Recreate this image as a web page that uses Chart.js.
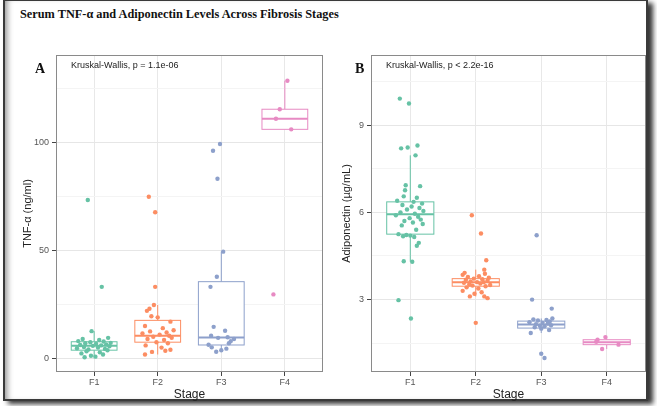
<!DOCTYPE html>
<html>
<head>
<meta charset="utf-8">
<script src="https://cdn.jsdelivr.net/npm/chart.js@4.4.1/dist/chart.umd.min.js"></script>
<style>
  html, body { margin: 0; padding: 0; background: #fff; }
  body { width: 657px; height: 406px; position: relative; overflow: hidden; }
  #frame {
    position: absolute; left: 3px; top: 0px; width: 645px; height: 401px;
    box-sizing: border-box; border: 2px solid #3a3a3a; border-top-width: 1px;
    box-shadow: inset 6px 0 6px -4px rgba(0,0,0,0.45), 5px 3px 5px rgba(0,0,0,0.8);
  }
  #title {
    position: absolute; left: 20px; top: 7px;
    font: bold 12.3px "Liberation Serif", "Times New Roman", serif; color: #111;
  }
  .wrap { position: absolute; top: 0; height: 406px; }
  #wa { left: 0; width: 330px; }
  #wb { left: 330px; width: 327px; }
</style>
</head>
<body>
<div id="frame"></div>
<div id="title">Serum TNF-α and Adiponectin Levels Across Fibrosis Stages</div>
<div class="wrap" id="wa"><canvas id="chartA"></canvas></div>
<div class="wrap" id="wb"><canvas id="chartB"></canvas></div>
<script>
const stages = ["F1", "F2", "F3", "F4"];
const stageColors = ["#66c2a5", "#fc8d62", "#8da0cb", "#e78ac3"];

// Panel A: TNF-alpha (ng/ml)
const tnfF1 = [73.3, 33.1, 12.6, 9.5, 9.0, 8.5, 8.0, 7.8, 7.5, 7.2, 7.0, 6.8, 6.5, 6.2, 6.0, 5.8, 5.6, 5.3, 5.0, 4.7, 4.4, 4.1, 3.8, 3.3, 2.8, 2.3, 1.8, 1.2, 0.8, 0.5];
const tnfF2 = [74.8, 67.6, 33.1, 24.7, 23.0, 22.0, 19.5, 19.0, 17.0, 15.0, 14.0, 13.0, 12.5, 12.0, 11.5, 11.0, 10.5, 10.0, 9.5, 9.0, 8.5, 7.5, 7.0, 6.0, 5.0, 4.0, 3.5, 3.0, 1.8];
const tnfF3 = [99.2, 96.1, 83.1, 49.4, 37.8, 33.1, 14.6, 12.8, 10.5, 9.8, 9.5, 9.0, 8.0, 7.0, 6.3, 5.1, 4.5, 3.8, 3.1];
const tnfF4 = [128.5, 115.3, 110.9, 106.0, 29.6];

const tnfJitF1 = [-0.10, 0.12, -0.04, 0.22, -0.18, 0.08, -0.25, 0.15, -0.06, 0.26, -0.14, 0.03, 0.19, -0.22, 0.11, -0.02, 0.24, -0.16, 0.06, -0.27, 0.17, -0.09, 0.21, -0.12, 0.09, -0.2, 0.14, -0.05, 0.02, -0.15];
const tnfJitF2 = [-0.14, -0.04, -0.04, -0.06, -0.13, -0.17, -0.1, 0.0, 0.2, -0.2, 0.08, 0.25, -0.12, 0.14, -0.24, 0.03, 0.18, -0.07, 0.22, -0.16, 0.1, -0.02, 0.16, -0.19, 0.06, 0.2, 0.12, -0.09, -0.2];
const tnfJitF3 = [-0.02, -0.13, -0.06, 0.03, -0.07, -0.17, -0.12, 0.06, -0.16, 0.1, -0.05, 0.2, 0.15, 0.12, -0.2, -0.15, 0.08, 0.0, -0.08];
const tnfJitF4 = [0.04, -0.08, -0.14, 0.1, -0.18];

const tnfQ1 = [3.8, 7.5, 6.2, 106.0];
const tnfMed = [5.8, 10.5, 9.7, 110.9];
const tnfQ3 = [7.7, 17.6, 35.5, 115.3];
const tnfLo = [0.5, 1.8, 3.1, 106.0];
const tnfHi = [12.6, 24.7, 49.4, 128.5];

const tnfMajor = [0, 50, 100];
const tnfMinor = [25, 75, 125];

// Panel B: Adiponectin (ug/mL)
const adpF1 = [9.91, 9.74, 8.3, 8.23, 8.2, 7.96, 6.93, 6.9, 6.76, 6.55, 6.5, 6.4, 6.36, 6.3, 6.25, 6.2, 6.15, 6.1, 6.05, 6.0, 5.95, 5.9, 5.85, 5.8, 5.75, 5.7, 5.65, 5.6, 5.55, 5.4, 5.25, 5.22, 5.2, 5.18, 5.15, 4.95, 4.85, 4.32, 4.3, 2.98, 2.35];
const adpF2 = [5.9, 5.27, 4.35, 4.03, 3.92, 3.89, 3.85, 3.8, 3.78, 3.75, 3.72, 3.7, 3.68, 3.65, 3.62, 3.6, 3.6, 3.58, 3.55, 3.52, 3.5, 3.48, 3.46, 3.42, 3.38, 3.3, 3.25, 3.2, 3.11, 3.11, 3.05, 2.2];
const adpF3 = [5.21, 3.0, 2.69, 2.35, 2.32, 2.3, 2.28, 2.25, 2.22, 2.2, 2.18, 2.15, 2.12, 2.1, 2.08, 2.05, 2.0, 1.95, 1.85, 1.14, 0.99];
const adpF4 = [1.71, 1.62, 1.55, 1.45, 1.3];

const adpJitF1 = [-0.16, -0.02, 0.11, -0.04, -0.14, 0.08, -0.07, 0.15, -0.08, -0.1, 0.1, -0.2, 0.05, 0.18, -0.12, 0.02, 0.14, -0.05, 0.2, -0.15, 0.07, -0.22, 0.12, -0.01, 0.16, -0.09, 0.04, 0.19, -0.13, 0.09, -0.18, -0.06, 0.0, -0.11, 0.06, 0.13, 0.1, -0.1, 0.03, -0.18, 0.01];
const adpJitF2 = [-0.06, 0.08, 0.16, 0.13, -0.17, 0.14, -0.2, 0.05, -0.12, 0.2, -0.03, 0.1, -0.15, 0.18, -0.08, 0.02, 0.12, -0.18, 0.07, -0.1, 0.22, -0.05, 0.15, -0.14, 0.04, -0.2, 0.09, -0.02, -0.09, 0.13, 0.18, 0.0];
const adpJitF3 = [-0.07, -0.14, 0.16, 0.17, -0.12, 0.08, -0.05, 0.13, -0.18, 0.02, 0.1, -0.08, 0.15, -0.02, 0.05, -0.1, 0.0, 0.12, -0.16, 0.0, 0.05];
const adpJitF4 = [-0.02, -0.14, -0.16, 0.18, -0.07];

const adpQ1 = [5.25, 3.46, 2.02, 1.45];
const adpMed = [5.93, 3.6, 2.14, 1.53];
const adpQ3 = [6.36, 3.72, 2.26, 1.62];
const adpLo = [4.3, 3.11, 1.85, 1.3];
const adpHi = [7.96, 4.03, 2.35, 1.71];

const adpMajor = [3, 6, 9];
const adpMinor = [1.5, 4.5, 7.5, 10.5];

const sansFont = '"Liberation Sans", Arial, sans-serif';

function pointsFor(values, jit, idx) {
  return values.map((v, k) => ({ x: idx + 1 + (jit[k] || 0), y: v }));
}

// boxes (drawn under points), panel border and in-panel texts
const panelPlugin = {
  id: "panel",
  beforeDatasetsDraw(chart, args, o) {
    const ctx = chart.ctx;
    const x = chart.scales.x, y = chart.scales.y;
    ctx.save();
    stages.forEach((s, i) => {
      const c = i + 1;
      const xl = x.getPixelForValue(c - 0.36), xr = x.getPixelForValue(c + 0.36);
      const xc = x.getPixelForValue(c);
      const y1 = y.getPixelForValue(o.q1[i]), y3 = y.getPixelForValue(o.q3[i]);
      ctx.strokeStyle = stageColors[i];
      ctx.lineWidth = 1;
      ctx.beginPath();
      ctx.moveTo(xc, y3); ctx.lineTo(xc, y.getPixelForValue(o.hi[i]));
      ctx.moveTo(xc, y1); ctx.lineTo(xc, y.getPixelForValue(o.lo[i]));
      ctx.stroke();
      ctx.fillStyle = "#fff";
      ctx.fillRect(xl, y3, xr - xl, y1 - y3);
      ctx.strokeRect(xl, y3, xr - xl, y1 - y3);
      ctx.lineWidth = 2;
      const ym = y.getPixelForValue(o.med[i]);
      ctx.beginPath();
      ctx.moveTo(xl, ym); ctx.lineTo(xr, ym);
      ctx.stroke();
    });
    ctx.restore();
  },
  afterDraw(chart, args, o) {
    const ctx = chart.ctx, a = chart.chartArea;
    ctx.save();
    ctx.strokeStyle = "#8a8a8a";
    ctx.lineWidth = 1;
    ctx.strokeRect(a.left + 0.5, a.top + 0.5, a.right - a.left - 1, a.bottom - a.top - 1);
    ctx.fillStyle = "#222";
    ctx.textBaseline = "middle";
    ctx.font = "9px " + sansFont;
    ctx.fillText(o.test, a.left + 15, a.top + 11);
    ctx.font = 'bold 14px "Liberation Serif", "Times New Roman", serif';
    ctx.fillStyle = "#111";
    ctx.fillText(o.letter, o.letterX, 69);
    ctx.restore();
  },
};

function makePanel(id, cfg) {
  const datasets = cfg.groups.map((g, i) => ({
    data: pointsFor(g, cfg.jit[i], i),
    pointRadius: 2.2,
    pointBackgroundColor: stageColors[i],
    pointBorderWidth: 0,
    showLine: false,
  }));
  const allTicks = cfg.major.concat(cfg.minor).sort((p, q) => p - q);

  new Chart(document.getElementById(id), {
    type: "scatter",
    data: { datasets },
    options: {
      responsive: true,
      maintainAspectRatio: false,
      animation: false,
      layout: { padding: cfg.padding },
      plugins: {
        legend: { display: false },
        tooltip: { enabled: false },
        panel: cfg.panel,
      },
      scales: {
        x: {
          type: "linear",
          min: 0.4,
          max: 4.6,
          afterBuildTicks: (s) => { s.ticks = [1, 2, 3, 4].map((v) => ({ value: v })); },
          afterFit: (s) => { s.height = 34; },
          ticks: {
            autoSkip: false,
            maxRotation: 0,
            padding: 1,
            color: "#555",
            font: { family: sansFont, size: 9 },
            callback: (v, i) => stages[i],
          },
          grid: { color: "#e8e8e8", tickColor: "#444", tickLength: 4 },
          border: { display: false },
          title: {
            display: true,
            text: "Stage",
            color: "#222",
            font: { family: sansFont, size: 12 },
            padding: { top: 0, bottom: 4 },
          },
        },
        y: {
          type: "linear",
          min: cfg.yMin,
          max: cfg.yMax,
          afterBuildTicks: (s) => { s.ticks = allTicks.map((v) => ({ value: v })); },
          afterFit: (s) => { s.width = cfg.yWidth; },
          ticks: {
            padding: 3,
            color: "#555",
            font: { family: sansFont, size: 9 },
            callback: (v) => (cfg.major.includes(v) ? String(v) : ""),
          },
          grid: {
            color: (c) => (c.tick && cfg.major.includes(c.tick.value) ? "#e6e6e6" : "#f4f4f4"),
            tickColor: (c) => (c.tick && cfg.major.includes(c.tick.value) ? "#444" : "rgba(0,0,0,0)"),
            tickLength: 4,
          },
          border: { display: false },
          title: {
            display: true,
            text: cfg.yTitle,
            color: "#222",
            font: { family: sansFont, size: 11 },
            padding: { top: 4, bottom: 4 },
          },
        },
      },
    },
    plugins: [panelPlugin],
  });
}

makePanel("chartA", {
  groups: [tnfF1, tnfF2, tnfF3, tnfF4],
  jit: [tnfJitF1, tnfJitF2, tnfJitF3, tnfJitF4],
  major: tnfMajor,
  minor: tnfMinor,
  yMin: -6.3,
  yMax: 140.4,
  yWidth: 39,
  yTitle: "TNF-α (ng/ml)",
  padding: { left: 17, right: 7, top: 55, bottom: 0 },
  panel: { q1: tnfQ1, med: tnfMed, q3: tnfQ3, lo: tnfLo, hi: tnfHi, test: "Kruskal-Wallis, p = 1.1e-06", letter: "A", letterX: 35 },
});

makePanel("chartB", {
  groups: [adpF1, adpF2, adpF3, adpF4],
  jit: [adpJitF1, adpJitF2, adpJitF3, adpJitF4],
  major: adpMajor,
  minor: adpMinor,
  yMin: 0.51,
  yMax: 11.41,
  yWidth: 35,
  yTitle: "Adiponectin (µg/mL)",
  padding: { left: 6, right: 11, top: 55, bottom: 0 },
  panel: { q1: adpQ1, med: adpMed, q3: adpQ3, lo: adpLo, hi: adpHi, test: "Kruskal-Wallis, p < 2.2e-16", letter: "B", letterX: 25 },
});
</script>
</body>
</html>
